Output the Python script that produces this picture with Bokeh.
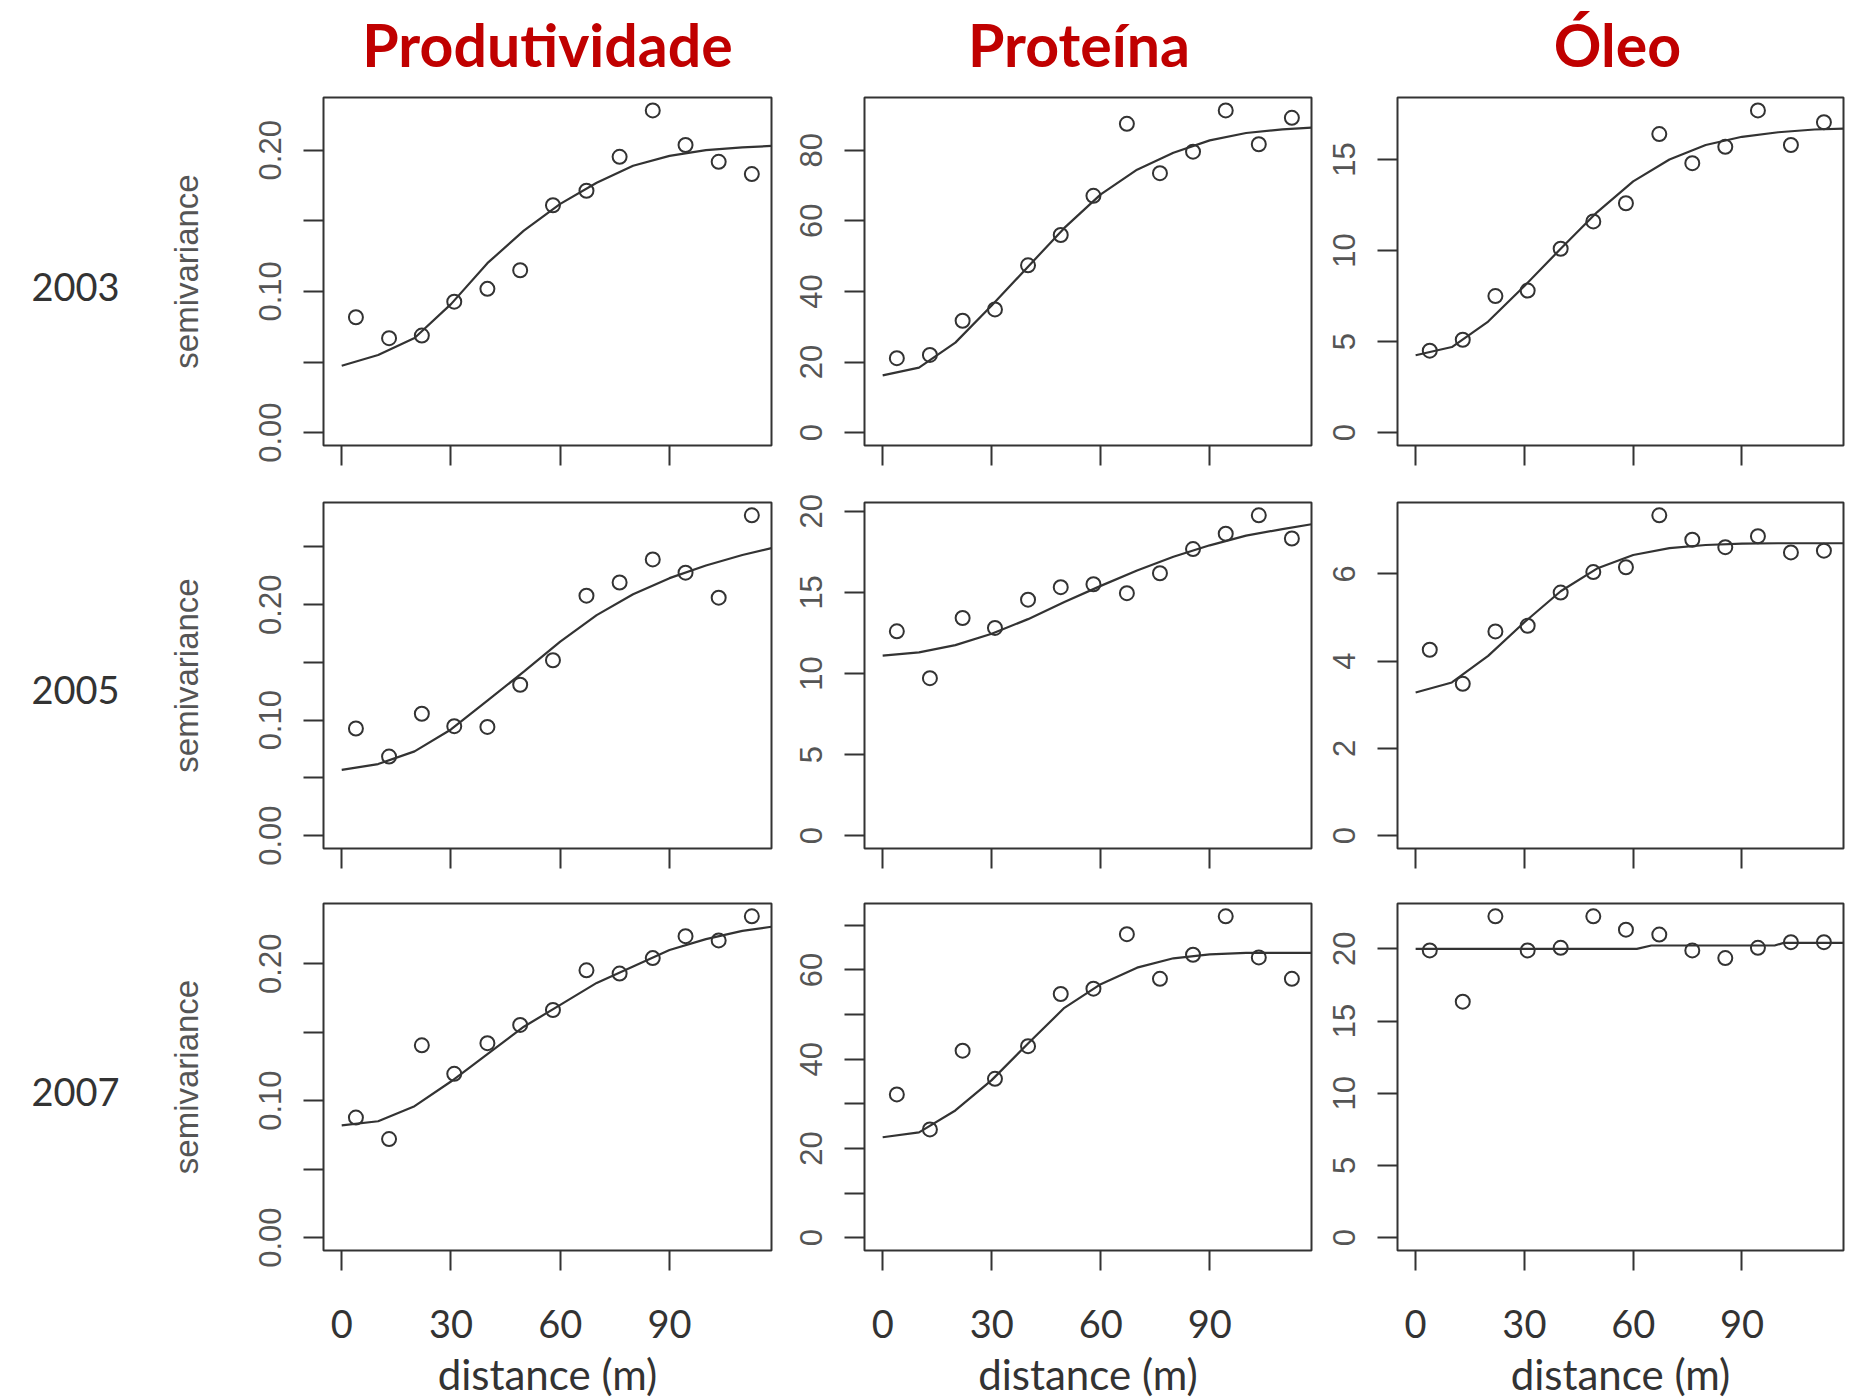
from bokeh.plotting import figure
from bokeh.layouts import column, row
from bokeh.models import FixedTicker, PrintfTickFormatter, Range1d
from bokeh.core.properties import value
from bokeh.embed import file_html
from bokeh.resources import INLINE

# ---------------- data ----------------
col_titles = ["Produtividade", "Proteína", "Óleo"]
row_years = ["2003", "2005", "2007"]

lags = [3.9, 13.0, 22.0, 30.9, 40.0, 49.0, 58.0, 67.2, 76.3, 85.4, 94.4, 103.5, 112.6]

prod_2003 = [0.0817, 0.0669, 0.0687, 0.0927, 0.1018, 0.1150, 0.1610, 0.1713, 0.1953, 0.2282, 0.2037, 0.1918, 0.1831]
prot_2003 = [21.1, 22.0, 31.7, 34.9, 47.4, 56.0, 67.1, 87.5, 73.5, 79.6, 91.3, 81.7, 89.2]
oleo_2003 = [4.5, 5.1, 7.5, 7.8, 10.1, 11.6, 12.6, 16.4, 14.8, 15.7, 17.7, 15.8, 17.05]
prod_2005 = [0.0928, 0.0685, 0.1056, 0.0948, 0.0942, 0.1307, 0.1519, 0.2078, 0.2192, 0.2392, 0.2277, 0.2061, 0.2774]
prot_2005 = [12.6, 9.71, 13.42, 12.81, 14.55, 15.32, 15.5, 14.95, 16.18, 17.67, 18.62, 19.75, 18.32]
oleo_2005 = [4.26, 3.48, 4.68, 4.81, 5.57, 6.04, 6.15, 7.34, 6.78, 6.61, 6.86, 6.49, 6.53]
prod_2007 = [0.0877, 0.0720, 0.1404, 0.1196, 0.1420, 0.1553, 0.1662, 0.1952, 0.1928, 0.2041, 0.2201, 0.2170, 0.2346]
prot_2007 = [32.1, 24.25, 41.9, 35.6, 42.9, 54.6, 55.8, 68.0, 58.0, 63.4, 72.0, 62.8, 58.0]
oleo_2007 = [19.89, 16.34, 22.25, 19.89, 20.07, 22.25, 21.33, 20.99, 19.89, 19.36, 20.07, 20.46, 20.46]

# fitted model curves, read at these distances
fit_dist = [0, 10, 20, 30, 40, 50, 60, 70, 80, 90, 100, 110, 118]
prod_2003_fit = [0.0474, 0.055, 0.067, 0.091, 0.120, 0.143, 0.162, 0.177, 0.189, 0.196, 0.200, 0.202, 0.203]
prot_2003_fit = [16.2, 18.4, 25.5, 36.0, 47.0, 58.0, 67.5, 74.5, 79.3, 82.8, 84.9, 85.9, 86.4]
oleo_2003_fit = [4.25, 4.7, 6.1, 8.05, 10.1, 12.1, 13.8, 15.0, 15.8, 16.25, 16.5, 16.65, 16.7]
prod_2005_fit = [0.057, 0.062, 0.073, 0.092, 0.117, 0.142, 0.168, 0.191, 0.209, 0.223, 0.234, 0.243, 0.249]
prot_2005_fit = [11.1, 11.3, 11.75, 12.45, 13.35, 14.4, 15.4, 16.35, 17.2, 17.9, 18.5, 18.9, 19.2]
oleo_2005_fit = [3.28, 3.51, 4.12, 4.89, 5.6, 6.12, 6.43, 6.59, 6.66, 6.69, 6.70, 6.70, 6.70]
prod_2007_fit = [0.082, 0.085, 0.096, 0.114, 0.134, 0.154, 0.170, 0.186, 0.198, 0.210, 0.218, 0.224, 0.227]
prot_2007_fit = [22.5, 23.6, 28.5, 35.3, 43.5, 51.5, 56.8, 60.5, 62.6, 63.5, 63.8, 63.8, 63.8]
oleo_2007_fit_dist = [0, 61, 65, 99, 101.5, 118]
oleo_2007_fit = [20.0, 20.0, 20.23, 20.23, 20.41, 20.41]

x_ticks = [0, 30, 60, 90]

# y ticks per panel: (labelled, unlabelled, format)
yt_prod = ([0, 0.1, 0.2], [0.05, 0.15], "%.2f")
yt_prod05 = ([0, 0.1, 0.2], [0.05, 0.15, 0.25], "%.2f")
yt_prot03 = ([0, 20, 40, 60, 80], [], "%d")
yt_oleo03 = ([0, 5, 10, 15], [], "%d")
yt_prot05 = ([0, 5, 10, 15, 20], [], "%d")
yt_oleo05 = ([0, 2, 4, 6], [], "%d")
yt_prot07 = ([0, 20, 40, 60], [10, 30, 50, 70], "%d")
yt_oleo07 = ([0, 5, 10, 15, 20], [], "%d")

panels = [
    [(prod_2003, fit_dist, prod_2003_fit, yt_prod),
     (prot_2003, fit_dist, prot_2003_fit, yt_prot03),
     (oleo_2003, fit_dist, oleo_2003_fit, yt_oleo03)],
    [(prod_2005, fit_dist, prod_2005_fit, yt_prod05),
     (prot_2005, fit_dist, prot_2005_fit, yt_prot05),
     (oleo_2005, fit_dist, oleo_2005_fit, yt_oleo05)],
    [(prod_2007, fit_dist, prod_2007_fit, yt_prod),
     (prot_2007, fit_dist, prot_2007_fit, yt_prot07),
     (oleo_2007, oleo_2007_fit_dist, oleo_2007_fit, yt_oleo07)],
]

# ---------------- layout / style ----------------
INK = "#333333"
LABEL_GRAY = "#555555"
TITLE_RED = "#C00000"

YEAR_W = 140                      # width of the strip that holds the year labels
YEAR_CX = 75                      # centre of the year text inside that strip
TITLE_H = 90                      # height of the strip that holds the column titles
TITLE_Y = 44.3                    # title anchor, px from the page top
col_geom = [(448, 323 - YEAR_W, 15), (447, 78, 6), (446, 80, 7)]   # frame width, left, right
row_geom = [(348, 97 - TITLE_H, 29), (346, 28, 28), (347, 27, 150)]  # frame height, top, bottom
year_dy = [15, 14, 15]
title_dx = [0, -9, -3]

X_LO, X_HI = -5.0, 118.0


def blank_fig(fw, fh, bl, br, bt, bb, xr, yr):
    f = figure(title=None, frame_width=fw, frame_height=fh, min_border_left=bl,
               min_border_right=br, min_border_top=bt, min_border_bottom=bb,
               x_range=xr, y_range=yr, x_axis_type=None, y_axis_type=None,
               toolbar_location=None, output_backend="svg")
    f.outline_line_color = None
    f.xgrid.visible = False
    f.ygrid.visible = False
    return f


# ---- title strip ----
title_figs = []
for ci in range(3):
    fw, bl, br = col_geom[ci]
    left = bl + (YEAR_W if ci == 0 else 0)
    tf = blank_fig(fw, TITLE_H, left, br, 0, 0, Range1d(X_LO, X_HI), Range1d(0, TITLE_H))
    tf.text(x=[(X_LO + X_HI) / 2], y=[TITLE_H - TITLE_Y], text=[col_titles[ci]],
            x_offset=title_dx[ci], text_align="center", text_baseline="alphabetic",
            text_font=value("Lato"), text_font_style="bold", text_font_size="59px",
            text_color=TITLE_RED)
    title_figs.append(tf)

rows = [row(*title_figs)]
for ri in range(3):
    fh, bt, bb = row_geom[ri]
    # strip with the year label (its frame lines up with the panel frames)
    yf = blank_fig(YEAR_W, fh, 0, 0, bt, bb, Range1d(0, YEAR_W), Range1d(0, fh))
    yf.text(x=[YEAR_CX], y=[fh / 2 - year_dy[ri]], text=[row_years[ri]],
            text_align="center", text_baseline="middle",
            text_font=value("Lato"), text_font_size="38px", text_color=INK)
    figs = [yf]
    for ci in range(3):
        vals, fx, fy, (yt, ym, fmt) = panels[ri][ci]
        fw, bl, br = col_geom[ci]
        lo, hi = 0.0, max(vals)
        pad = 0.04 * (hi - lo)
        p = figure(title=None, frame_width=fw, frame_height=fh,
                   min_border_left=bl, min_border_right=br,
                   min_border_top=bt, min_border_bottom=bb,
                   x_range=Range1d(X_LO, X_HI), y_range=Range1d(lo - pad, hi + pad),
                   toolbar_location=None, output_backend="svg")
        p.background_fill_color = "white"
        p.border_fill_color = "white"
        p.outline_line_color = INK
        p.outline_line_width = 2
        p.xgrid.visible = False
        p.ygrid.visible = False

        p.line(fx, fy, line_color=INK, line_width=2.2)
        p.scatter(lags, vals, marker="circle", size=14, fill_color=None,
                  line_color=INK, line_width=2)

        # y axis
        ya = p.yaxis[0]
        ya.ticker = FixedTicker(ticks=yt, minor_ticks=ym)
        ya.formatter = PrintfTickFormatter(format=fmt)
        ya.axis_line_color = None
        ya.major_tick_in = 0
        ya.major_tick_out = 20
        ya.minor_tick_in = 0
        ya.minor_tick_out = 20
        ya.major_tick_line_color = INK
        ya.minor_tick_line_color = INK
        ya.major_tick_line_width = 2
        ya.minor_tick_line_width = 2
        ya.major_label_orientation = "vertical"
        ya.major_label_text_font = "Liberation Sans"
        ya.major_label_text_font_size = "31px"
        ya.major_label_text_color = LABEL_GRAY
        ya.major_label_standoff = 22
        if ci == 0:
            ya.axis_label = "semivariance"
            ya.axis_label_text_font = "Liberation Sans"
            ya.axis_label_text_font_size = "33px"
            ya.axis_label_text_font_style = "normal"
            ya.axis_label_text_color = LABEL_GRAY
            ya.axis_label_standoff = 52

        # x axis
        xa = p.xaxis[0]
        xa.ticker = FixedTicker(ticks=x_ticks, minor_ticks=[])
        xa.axis_line_color = None
        xa.major_tick_in = 0
        xa.major_tick_out = 20
        xa.major_tick_line_color = INK
        xa.major_tick_line_width = 2
        if ri == 2:
            xa.major_label_text_font = "Lato"
            xa.major_label_text_font_size = "38px"
            xa.major_label_text_color = INK
            xa.major_label_standoff = 39
            xa.axis_label = "distance (m)"
            xa.axis_label_text_font = "Lato"
            xa.axis_label_text_font_size = "42px"
            xa.axis_label_text_font_style = "normal"
            xa.axis_label_text_color = INK
            xa.axis_label_standoff = 8
        else:
            xa.major_label_overrides = {t: "" for t in x_ticks}

        figs.append(p)
    rows.append(row(*figs))

layout = column(*rows)
open("out.html", "w").write(file_html(layout, INLINE))
